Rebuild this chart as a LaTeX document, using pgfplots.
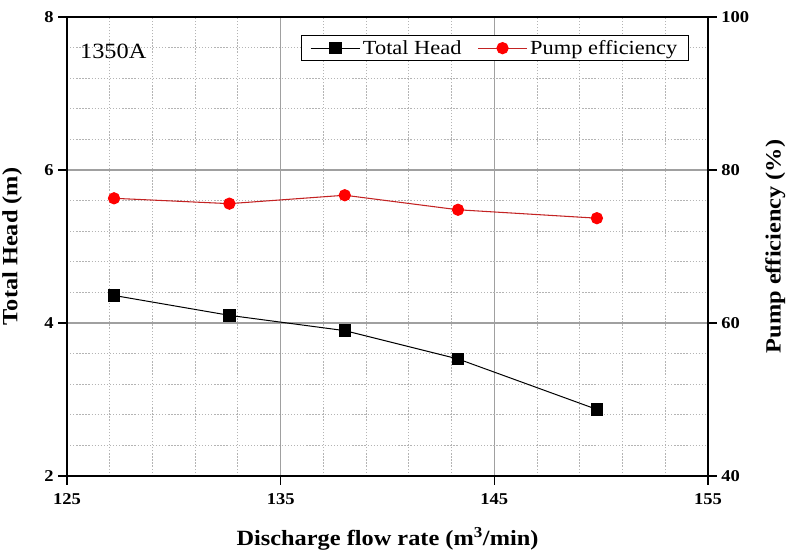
\documentclass[border=0pt]{standalone}
\usepackage{fontspec}
\setmainfont[FakeStretch=1.12]{Liberation Serif}
\usepackage{pgfplots}
\pgfplotsset{compat=1.18}
\definecolor{effline}{RGB}{195,35,35}
\definecolor{majgrid}{RGB}{160,160,160}
\definecolor{mingrid}{RGB}{180,180,180}
\begin{document}
\begin{tikzpicture}
\pgfplotsset{
  every axis/.append style={
    width=480.75pt, height=344.25pt, scale only axis,
    xmin=125, xmax=155,
    axis line style={line width=1.5pt},
    tick align=outside,
    major tick length=6.5pt, minor tick length=0pt,
    every tick/.style={black, line width=1.2pt},
    /pgf/number format/assume math mode=true,
    tick label style={font=\fontsize{12.4}{14}\selectfont\bfseries},
    label style={font=\fontsize{16.3}{18}\selectfont\bfseries},
  },
}
\begin{axis}[
  ymin=2, ymax=8,
  xtick={125,135,145,155},
  ytick={2,4,6,8},
  minor xtick={127,129,131,133,137,139,141,143,147,149,151,153},
  minor ytick={2.4,2.8,3.2,3.6,4.4,4.8,5.2,5.6,6.4,6.8,7.2,7.6},
  xtick pos=left, ytick pos=left,
  xticklabel style={yshift=-3pt},
  grid=both,
  major grid style={majgrid, line width=0.8pt},
  minor grid style={mingrid, line width=0.75pt, dash pattern=on 1pt off 1.3pt},
  xlabel={Discharge flow rate (m\textsuperscript{3}/min)},
  ylabel={Total Head (m)},
  xlabel style={at={(axis description cs:0.5,-0.1525)}, anchor=base, inner sep=0pt},
  ylabel style={at={(axis description cs:-0.1014,0.5)}, anchor=north, inner sep=0pt},
]
\addplot[black, line width=0.75pt, mark=square*, mark size=4.3pt, mark options={solid, fill=black}]
  coordinates {(127.2,4.36) (132.6,4.10) (138.0,3.90) (143.3,3.53) (149.8,2.87)};
\node[anchor=base west, inner sep=0pt, font=\fontsize{16.3}{19}\selectfont] at (axis cs:125.6,7.46) {1350A};
\end{axis}
\begin{axis}[
  ymin=40, ymax=100,
  ytick={40,60,80,100},
  axis x line=none,
  axis y line*=right,
  ytick pos=right, yticklabel pos=right,
  ylabel={Pump efficiency (\%)},
  ylabel style={at={(axis description cs:1.0889,0.5)}, anchor=north, rotate=0, inner sep=0pt},
  legend columns=2,
  legend style={at={(0.9704,0.9608)}, anchor=north east, draw=black, line width=0.7pt,
    font=\fontsize{15}{17}\selectfont, inner xsep=6.5pt, inner ysep=1.5pt,
    /tikz/every even column/.append style={column sep=10pt}},
  legend image code/.code={\draw[mark repeat=2, mark phase=2, #1] plot coordinates {(0pt,0pt) (18.4pt,0pt) (36.75pt,0pt)};},
]
\addlegendimage{black, line width=0.75pt, mark=square*, mark size=4.3pt, mark options={solid, fill=black}}
\addlegendentry{Total Head}
\addplot[effline, line width=0.8pt, mark=*, mark size=4.2pt, mark options={solid, fill=red, draw=red}]
  coordinates {(127.2,76.3) (132.6,75.6) (138.0,76.7) (143.3,74.8) (149.8,73.7)};
\addlegendentry{Pump efficiency}
\end{axis}
\pgfresetboundingbox
\useasboundingbox (-50.25pt,-59.25pt) rectangle (549.75pt,357pt);
\end{tikzpicture}
\end{document}
